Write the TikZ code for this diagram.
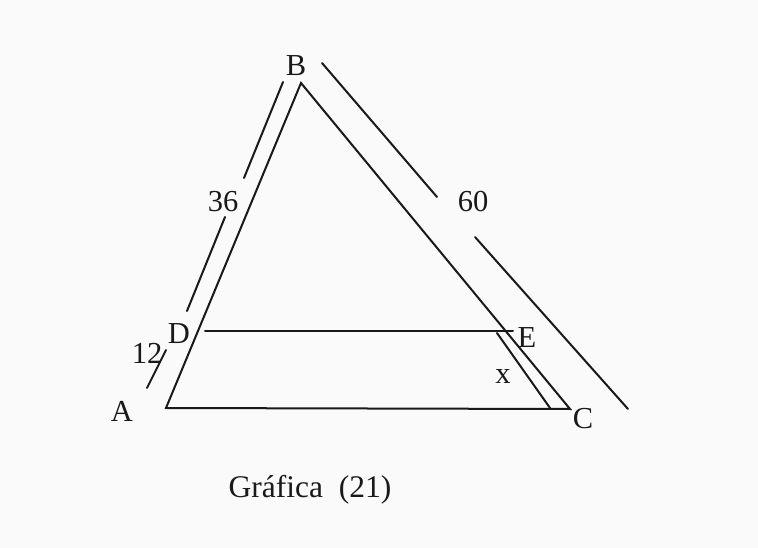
\documentclass[tikz,border=0pt]{standalone}
\usepackage{fontspec}
\setmainfont{Liberation Serif}
\begin{document}
\begin{tikzpicture}[x=1pt,y=-1pt,
  edge/.style={line width=2pt,line cap=round,black!90},
  lbl/.style={font=\fontsize{30.5}{32}\selectfont,inner sep=0pt,text=black!90},
  captiontext/.style={font=\fontsize{31.5}{34}\selectfont,inner sep=0pt,text=black!90}]
\fill[black!2] (0,0) rectangle (758,548);
\useasboundingbox (0,0) rectangle (758,548);
% vertices
\coordinate (A) at (166,408);
\coordinate (B) at (301,83);
\coordinate (C) at (570,409);
\coordinate (D) at (205,331);
\coordinate (E) at (513,331);
\coordinate (X1) at (497,333);
\coordinate (X2) at (550,408);
% dimension line ends
\coordinate (L1a) at (283,82);
\coordinate (L1b) at (244,178);
\coordinate (L2a) at (225,217);
\coordinate (L2b) at (187,311);
\coordinate (L3a) at (166,350);
\coordinate (L3b) at (147,388);
\coordinate (R1a) at (322,63);
\coordinate (R1b) at (437,197);
\coordinate (R2a) at (475,237);
\coordinate (R2b) at (628,409);
% triangle
\draw[edge] (B) -- (A) -- (C) -- cycle;
\draw[edge] (D) -- (E);
\draw[edge] (X1) -- (X2);
% dimension lines
\draw[edge] (L1a) -- (L1b);
\draw[edge] (L2a) -- (L2b);
\draw[edge] (L3a) -- (L3b);
\draw[edge] (R1a) -- (R1b);
\draw[edge] (R2a) -- (R2b);
% labels
\node[lbl] (lA) at (122,411) {A};
\node[lbl] (lB) at (296,66) {B};
\node[lbl] (lC) at (583,419) {C};
\node[lbl] (lD) at (179,334) {D};
\node[lbl] (lE) at (527,338) {E};
\node[lbl] (lx) at (503,376) {x};
\node[lbl] (l36) at (223,202) {36};
\node[lbl] (l60) at (473,202) {60};
\node[lbl] (l12) at (147,353) {12};
\node[captiontext,anchor=base] (captionnode) at (310,497) {Gráfica\ \ (21)};
\end{tikzpicture}
\end{document}
